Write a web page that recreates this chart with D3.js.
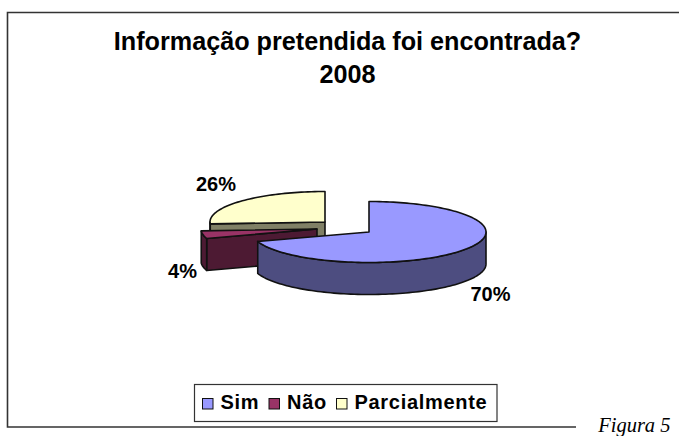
<!DOCTYPE html>
<html><head><meta charset="utf-8">
<script src="https://cdn.jsdelivr.net/npm/d3@7"></script>
<style>html,body{margin:0;padding:0;background:#fff}svg{display:block}
text{font-family:"Liberation Sans",Arial,sans-serif;font-weight:bold;fill:#000}</style>
</head><body><svg id="c" width="679" height="436"></svg>
<script>
const categories = ["Sim", "Não", "Parcialmente"];
const values = [70, 4, 26];
const topColors = ["#9999ff", "#993366", "#ffffcc"];
const sideColors = ["#4d4d80", "#4d1a33", "#808066"];
const titleLines = ["Informação pretendida foi encontrada?", "2008"];
const caption = "Figura 5";

const svg = d3.select("#c");
const ink = "#111";

// frame
svg.append("path").attr("d", d3.line()([[679,12.5],[7.5,12.5],[7.5,427],[576,427]]))
  .attr("fill","none").attr("stroke","#333").attr("stroke-width",1.6);

// title
svg.selectAll("text.title").data(titleLines).join("text").attr("class","title")
  .attr("x",347.5).attr("y",(d,i)=>50+i*33).attr("text-anchor","middle")
  .attr("font-size",25.2).text(d=>d);

// pie layout
const pie = d3.pie().sort(null).value(d=>d).startAngle(0).endAngle(2*Math.PI);
const arcs = pie(values);
const centers = [[369,232],[317,229],[325,222]];
const radii = [117,116,115];
const ry = 30.5, depth = 32;
const line = d3.line();

function proj(c, rx, a, dz=0){
  return [c[0]+rx*Math.sin(a), c[1]-ry*Math.cos(a)+dz];
}
function angles(a0,a1){
  const n = Math.max(2, Math.ceil((a1-a0)/0.03));
  return d3.range(n+1).map(i=>a0+(a1-a0)*i/n);
}
function topPath(c,rx,a){
  return line([c, ...angles(a.startAngle,a.endAngle).map(t=>proj(c,rx,t))])+"Z";
}
function wallPath(c,rx,a0,a1){
  const as = angles(a0,a1);
  return line([...as.map(t=>proj(c,rx,t)), ...as.slice().reverse().map(t=>proj(c,rx,t,depth))])+"Z";
}
function cutPath(c,rx,a){
  const p = proj(c,rx,a);
  return line([c,p,[p[0],p[1]+depth],[c[0],c[1]+depth]])+"Z";
}

// painter's order: back slices first
[2,1,0].forEach(i=>{
  const a = arcs[i], c = centers[i], rx = radii[i];
  const g = svg.append("g").attr("stroke",ink).attr("stroke-width",1.6).attr("stroke-linejoin","round");
  const lo = Math.max(a.startAngle, Math.PI/2), hi = Math.min(a.endAngle, 3*Math.PI/2);
  if (a.startAngle > Math.PI && a.startAngle < 2*Math.PI)
    g.append("path").attr("d",cutPath(c,rx,a.startAngle)).attr("fill",sideColors[i]);
  if (hi > lo) g.append("path").attr("d",wallPath(c,rx,lo,hi)).attr("fill",sideColors[i]);
  g.append("path").attr("d",topPath(c,rx,a)).attr("fill",topColors[i]);
});

// value labels
const labelPos = [[490.5,301],[182.5,278],[216,191]];
svg.selectAll("text.pct").data(values).join("text").attr("class","pct")
  .attr("x",(d,i)=>labelPos[i][0]).attr("y",(d,i)=>labelPos[i][1])
  .attr("text-anchor","middle").attr("font-size",20).text(d=>d+"%");

// legend
svg.append("rect").attr("x",194.5).attr("y",384.5).attr("width",302.5).attr("height",37)
  .attr("fill","#fff").attr("stroke","#333").attr("stroke-width",1.2);
const legendX = [202, 268.5, 336];
const lg = svg.selectAll("g.lg").data(categories).join("g").attr("class","lg")
  .attr("transform",(d,i)=>`translate(${legendX[i]},0)`);
lg.append("rect").attr("x",0.5).attr("y",398.5).attr("width",10.5).attr("height",10.5)
  .attr("fill",(d,i)=>topColors[i]).attr("stroke",ink).attr("stroke-width",1);
lg.append("text").attr("x",18.5).attr("y",409).attr("font-size",20)
  .attr("letter-spacing",0.7).text(d=>d);

// caption
svg.append("text").attr("x",670.5).attr("y",431.5).attr("text-anchor","end")
  .style("font-family",'"Liberation Serif","Times New Roman",serif')
  .style("font-weight","normal").style("font-style","italic")
  .attr("font-size",20.5).text(caption);
</script></body></html>
